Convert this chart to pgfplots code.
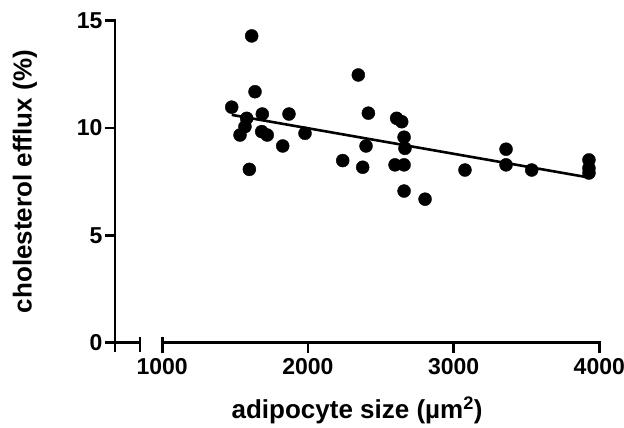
\documentclass[border=0pt]{standalone}
\usepackage{fontspec}
\setmainfont{Liberation Sans}
\usepackage{pgfplots}
\pgfplotsset{compat=1.18}

\begin{document}
\begin{tikzpicture}
\path[use as bounding box] (-115pt,-85.5pt) rectangle (509pt,342.5pt);
\begin{axis}[
  scale only axis, width=484.3pt, height=321.8pt,
  at={(0,0)}, anchor=south west,
  xmin=676, xmax=4000, ymin=0, ymax=15,
  clip=false,
  axis y line*=left, axis x line*=bottom,
  axis line style={draw=none},
  every tick/.style={black,line width=2.6pt},
  tick align=outside, major tick length=10pt,
  xtick={1000,2000,3000,4000}, ytick={0,5,10,15},
  minor tick num=0,
  /pgf/number format/assume math mode=true,
  /pgf/number format/1000 sep={},
  tick label style={font=\fontsize{23}{25}\selectfont\bfseries},
  xticklabel style={yshift=-2pt},
  yticklabel style={xshift=1pt},
  label style={font=\fontsize{26}{28}\selectfont\bfseries},
  xlabel={adipocyte size (µm\textsuperscript{2})},
  ylabel={cholesterol efflux (\%)},
  xlabel style={at={(axis description cs:0.5,-0.2362)}, anchor=base},
  ylabel style={at={(axis description cs:-0.1858,0.5)}, anchor=center},
]
% axis lines drawn by hand: y axis, broken x axis
\draw[line width=2.6pt] ([yshift=-10pt]axis cs:676,0) -- ([yshift=1.3pt]axis cs:676,15);
\draw[line width=2.6pt] (axis cs:676,0) -- (axis cs:848,0);
\draw[line width=2.6pt] ([yshift=5.5pt]axis cs:848,0) -- ([yshift=-10pt]axis cs:848,0);
\draw[line width=2.6pt] ([xshift=-1.3pt]axis cs:1000,0) -- ([xshift=1.3pt]axis cs:4000,0);
\draw[line width=2.6pt] ([yshift=5.5pt]axis cs:1000,0) -- (axis cs:1000,0);

\addplot[only marks, mark=*, mark size=6.5pt, black] coordinates {
  (1614,14.29) (1637,11.69) (1477,10.97) (1687,10.65) (1870,10.65)
  (1580,10.45) (1568,10.06) (1534,9.67) (1683,9.83) (1721,9.67)
  (1980,9.75) (1827,9.16) (1598,8.07) (2346,12.47) (2415,10.69)
  (2609,10.45) (2644,10.29) (2660,9.57) (2399,9.16) (2666,9.05)
  (2239,8.48) (2376,8.17) (2598,8.28) (2660,8.28) (2660,7.06)
  (2804,6.68) (3078,8.04) (3360,9.01) (3360,8.28) (3536,8.04)
  (3929,8.51) (3929,8.13) (3929,7.90)
};
\addplot[black, line width=2.6pt] coordinates {(1477,10.61) (3929,7.69)};
\end{axis}
\end{tikzpicture}
\end{document}
